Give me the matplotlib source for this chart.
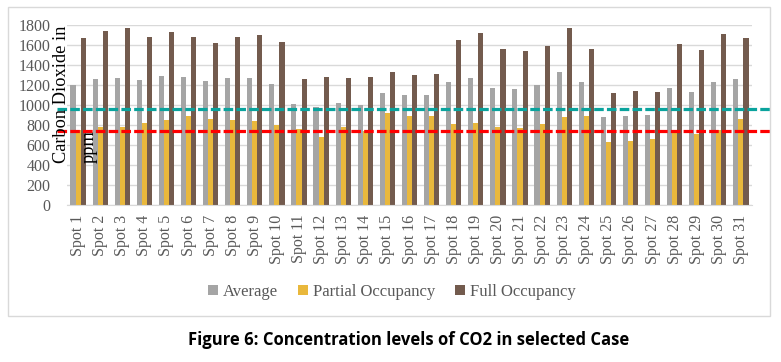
import numpy as np
import matplotlib
matplotlib.use("Agg")
import matplotlib.pyplot as plt
from matplotlib.patches import Rectangle

# values (ppm)
spots = [f"Spot {i}" for i in range(1, 32)]
average = [1200, 1260, 1270, 1250, 1290, 1280, 1240, 1270, 1270, 1210,
           1010, 980, 1020, 1000, 1120, 1100, 1100, 1230, 1270, 1170,
           1160, 1200, 1330, 1230, 880, 890, 900, 1170, 1130, 1230, 1260]
partial = [750, 783, 783, 820, 850, 890, 860, 850, 840, 800,
           757, 680, 780, 740, 920, 890, 890, 810, 820, 780,
           770, 810, 880, 890, 630, 640, 660, 723, 710, 750, 860]
full = [1673, 1740, 1770, 1680, 1730, 1680, 1620, 1680, 1700, 1630,
        1260, 1280, 1270, 1280, 1330, 1300, 1310, 1650, 1720, 1560,
        1540, 1593, 1770, 1560, 1120, 1140, 1130, 1610, 1550, 1710, 1670]
limit_high = 960
limit_low = 740

serif = "Liberation Serif"
tick_grey = "#595959"

fig = plt.figure(figsize=(7.81, 3.62), dpi=100)
ax = fig.add_axes([67 / 781, 1 - 205 / 362, 685 / 781, 180 / 362])

# outer chart frame
fig.patches.append(Rectangle((8 / 781, 1 - 316 / 362), 762 / 781, 309 / 362,
                             transform=fig.transFigure, fill=False,
                             edgecolor="#D9D9D9", linewidth=1))

x = np.arange(len(spots))
w = 0.23
ax.bar(x - w, average, w, color="#A5A5A5", label="Average", zorder=2)
ax.bar(x, partial, w, color="#E9B83C", label="Partial Occupancy", zorder=2)
ax.bar(x + w, full, w, color="#735B4E", label="Full Occupancy", zorder=2)

ax.axhline(limit_high, xmin=-0.0146, xmax=1.026, color="#0AA39D", lw=2.3,
           linestyle=(0, (3, 1)), clip_on=False, zorder=3)
ax.axhline(limit_low, xmin=-0.0146, xmax=1.026, color="#FF0000", lw=2.3,
           linestyle=(0, (3, 1)), clip_on=False, zorder=3)

ax.set_xlim(-0.5, len(spots) - 0.5)
ax.set_ylim(0, 1800)
ax.set_yticks(range(0, 1801, 200))
ax.yaxis.grid(True, color="#D9D9D9", linewidth=1, zorder=0)
ax.set_axisbelow(True)
for s in ["top", "right", "left"]:
    ax.spines[s].set_visible(False)
ax.spines["bottom"].set_color("#D9D9D9")

ax.set_xticks(x)
ax.set_xticklabels(spots, rotation=90, fontfamily=serif, fontsize=11.5,
                   color=tick_grey)
for lab in ax.get_yticklabels():
    lab.set_fontfamily(serif)
    lab.set_fontsize(11.5)
    lab.set_color(tick_grey)
ax.tick_params(axis="x", length=0, pad=7)
ax.tick_params(axis="y", length=0, pad=12)

# y label drawn over the plot like in the original
fig.text(62 / 781, 1 - 163 / 362, "Carbon Dioxide in", rotation=90,
         ha="center", va="bottom", fontfamily=serif, fontsize=13.2)
fig.text(89 / 781, 1 - 163 / 362, "ppm", rotation=90,
         ha="center", va="bottom", fontfamily=serif, fontsize=13.2)

fig.legend(loc="center", bbox_to_anchor=(392 / 781, 1 - 292 / 362), ncol=3,
           frameon=False, handlelength=0.6, handleheight=0.6,
           handletextpad=0.3, columnspacing=1.2,
           prop={"family": serif, "size": 12}, labelcolor=tick_grey)

fig.text(409 / 781, 1 - 340 / 362,
         "Figure 6: Concentration levels of CO2 in selected Case",
         ha="center", va="center", fontfamily="Open Sans",
         fontweight="bold", fontsize=12)

fig.savefig("out.png", dpi=100)
